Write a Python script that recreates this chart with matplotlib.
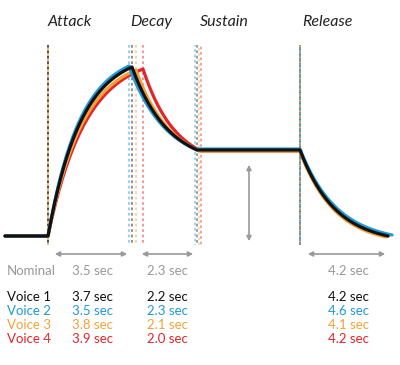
import matplotlib.pyplot as plt
import numpy as np

# ---- data ----
voices = ["Voice 1", "Voice 2", "Voice 3", "Voice 4"]
colors = ["#111111", "#1e9ad8", "#f4a236", "#e4242b"]
attack_times = [3.7, 3.5, 3.8, 3.9]
decay_times = [2.2, 2.3, 2.1, 2.0]
release_times = [4.2, 4.6, 4.1, 4.2]
nominal_times = [3.5, 2.3, 4.2]
phases = ["Attack", "Decay", "Sustain", "Release"]

# envelope key points per voice (pixel space of the diagram)
attack_start = 48
peak_x = [132, 129, 136, 143]
peak_y = [67, 66, 70, 69]
decay_end_x = [197, 195, 199, 201]
sustain_y = [150, 149, 151, 151]
release_start = 300
release_end_x = [388, 392, 386, 388]
release_end_y = [236, 235, 237, 236]
base_y = 236


def rise(x0, x1, y0, y1, k, n=80):
    t = np.linspace(0, 1, n)
    f = (1 - np.exp(-k * t)) / (1 - np.exp(-k))
    return x0 + (x1 - x0) * t, y0 + (y1 - y0) * f


fig = plt.figure(figsize=(4, 3.65), dpi=100)
ax = fig.add_axes([0, 0, 1, 1])
ax.set_xlim(0, 400)
ax.set_ylim(365, 0)
ax.axis("off")

# dashed guide lines
def vdash(x, c, off=0, alpha=0.8):
    ax.plot([x, x], [45, 245], color=c, lw=1.3, alpha=alpha,
            linestyle=(off, (1.5, 1.5)), zorder=1)

vdash(attack_start, "#111111", 0)
vdash(attack_start, "#f4a236", 1.5)
for i in range(4):
    vdash(peak_x[i], colors[i], 0, 0.5)
for i in range(4):
    vdash(decay_end_x[i], colors[i], i * 0.7, 0.45)
vdash(release_start, "#f4a236", 0)
vdash(release_start, "#1e9ad8", 1.0)
vdash(release_start, "#555555", 2.0, 0.6)

# envelopes
for i in [3, 2, 1, 0]:
    c = colors[i]
    xs = [5, attack_start]
    ys = [base_y, base_y]
    ax_, ay_ = rise(attack_start, peak_x[i], base_y, peak_y[i], 2.5)
    dx, dy = rise(peak_x[i], decay_end_x[i], peak_y[i], sustain_y[i], 1.8)
    rx, ry = rise(release_start, release_end_x[i], sustain_y[i], release_end_y[i], 2.5)
    x = np.concatenate([xs, ax_, dx, [release_start], rx])
    y = np.concatenate([ys, ay_, dy, [sustain_y[i]], ry])
    ax.plot(x, y, color=c, lw=2.3, solid_capstyle="round", zorder=3)

# arrows
arr = dict(arrowstyle="<|-|>", color="#9a9a9a", lw=1.2, mutation_scale=7)
ax.annotate("", xy=(52, 254), xytext=(130, 254), arrowprops=arr)
ax.annotate("", xy=(139, 254), xytext=(196, 254), arrowprops=arr)
ax.annotate("", xy=(305, 254), xytext=(388, 254), arrowprops=arr)
ax.annotate("", xy=(249, 162), xytext=(249, 244), arrowprops=arr)

# phase labels
font = "Lato"
for name, x in zip(phases, [48, 130, 200, 302]):
    ax.text(x, 22, name, fontsize=11.5, style="italic", color="#222222",
            family=font, va="center", ha="left")

# table
fs = 9.5
col_x = [72, 147, 328]
ax.text(7, 271, "Nominal", fontsize=fs, color="#999999", family=font, va="center")
for cx, v in zip(col_x, nominal_times):
    ax.text(cx, 271, f"{v:.1f} sec", fontsize=fs, color="#999999", family=font, va="center")

row_y = [297, 311, 325, 339]
for i, name in enumerate(voices):
    c = colors[i]
    ax.text(7, row_y[i], name, fontsize=fs, color=c, family=font, va="center")
    vals = [attack_times[i], decay_times[i], release_times[i]]
    for cx, v in zip(col_x, vals):
        ax.text(cx, row_y[i], f"{v:.1f} sec", fontsize=fs, color=c, family=font, va="center")

plt.savefig("out.png", dpi=100)
